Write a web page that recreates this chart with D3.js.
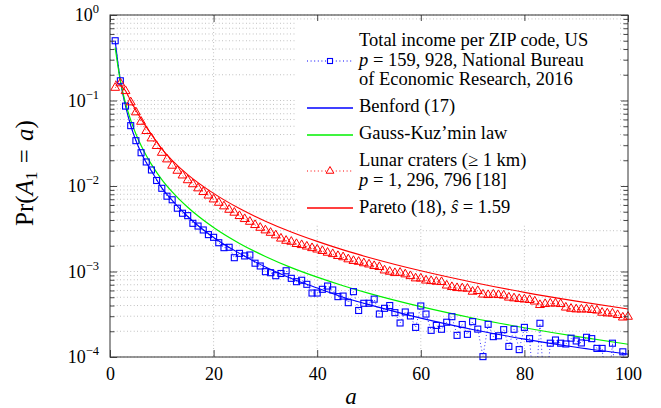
<!DOCTYPE html>
<html>
<head>
<meta charset="utf-8">
<script src="https://cdn.jsdelivr.net/npm/d3@7"></script>
<style>
    body { margin: 0; background: #fff; }
    svg text { font-family: "Liberation Serif", "Times New Roman", serif; fill: #000; }
</style>
</head>
<body>
<div id="chart"></div>
<script>
// first partial value a = 1..100
const digitValues = d3.range(1, 101);

// Total income per ZIP code, US (values below 1e-4 sit under the axis)
const incomeZip = [
    0.50, 0.170, 0.086, 0.0508, 0.0339, 0.0245, 0.0191, 0.0154, 0.0116, 0.0094,
    0.0076, 0.0069, 0.0055, 0.0048, 0.0045, 0.00366, 0.0034, 0.00306, 0.0027, 0.00251,
    0.00217, 0.00190, 0.00192, 0.00145, 0.00163, 0.00152, 0.00156, 0.00125, 0.00116, 0.000995,
    0.000968, 0.000893, 0.000948, 0.00102, 0.000832, 0.000760, 0.00079, 0.000708, 0.00056, 0.00056,
    0.000619, 0.000676, 0.000608, 0.000508, 0.000516, 0.000432, 0.000581, 0.00035, 0.000425, 0.000425,
    0.000475, 0.000318, 0.000371, 0.0004, 0.00033, 0.00025, 0.000336, 0.000302, 0.000222, 0.000395,
    0.000318, 0.000205, 0.000234, 0.000211, 0.000255, 0.000296, 0.000179, 0.00024, 0.000184, 0.000259,
    0.000212, 0.000101, 0.000241, 0.000173, 0.000177, 0.000209, 0.000133, 0.000211, 0.000122, 0.000222,
    0.000164, 0.00003, 0.000248, 0.00003, 0.000145, 0.000158, 0.000145, 0.000142, 0.000166, 0.000154,
    0.000146, 0.000170, 0.000164, 0.000126, 0.000126, 0.00003, 0.000145, 0.00003, 0.000115, 0.00003
];

// Lunar craters (>= 1 km)
const lunarCraters = [
    0.141, 0.159, 0.129, 0.0953, 0.0728, 0.0565, 0.0440, 0.0361, 0.0294, 0.0245,
    0.0205, 0.0173, 0.0151, 0.0133, 0.0117, 0.0105, 0.0094, 0.00851, 0.00774, 0.00698,
    0.00638, 0.00579, 0.00528, 0.00488, 0.00446, 0.00411, 0.00382, 0.00350, 0.00325, 0.00303,
    0.00284, 0.00265, 0.00243, 0.00229, 0.00223, 0.00210, 0.00204, 0.00196, 0.00188, 0.00181,
    0.00174, 0.00166, 0.00160, 0.00152, 0.00147, 0.00139, 0.00133, 0.00130, 0.00125, 0.00121,
    0.00116, 0.00113, 0.00103, 0.000995, 0.000960, 0.000968, 0.000927, 0.000885, 0.000832, 0.000828,
    0.000785, 0.000774, 0.000760, 0.000754, 0.000686, 0.000659, 0.000641, 0.000636, 0.000630, 0.000581,
    0.000592, 0.000538, 0.000531, 0.000538, 0.000531, 0.000524, 0.000496, 0.000486, 0.000477, 0.000471,
    0.000465, 0.000446, 0.000406, 0.000417, 0.000423, 0.000423, 0.000417, 0.000379, 0.000367, 0.000361,
    0.000360, 0.000361, 0.000355, 0.000350, 0.000330, 0.000324, 0.000323, 0.000310, 0.000290, 0.000296
];

// model curves, read at sample points
const benfordA = [1, 2, 3, 4, 5, 6, 7, 8, 10, 12, 15, 20, 25, 30, 35, 40, 45, 50, 60, 70, 80, 90, 100];
const benfordP = [0.5, 0.17, 0.086, 0.051, 0.034, 0.0245, 0.0188, 0.0150, 0.0095, 0.0068, 0.0044, 0.0025,
    0.00163, 0.00113, 0.00083, 0.00064, 0.00050, 0.00041, 0.000285, 0.000210, 0.000162, 0.000130, 0.000108];

const gaussA = [1, 2, 3, 4, 5, 6, 7, 8, 10, 12, 15, 20, 25, 30, 35, 40, 45, 50, 60, 70, 80, 90, 100];
const gaussP = [0.415, 0.170, 0.0931, 0.0589, 0.0406, 0.0297, 0.0227, 0.0179, 0.0119, 0.00854, 0.00564, 0.00327,
    0.00213, 0.00150, 0.00111, 0.000858, 0.000682, 0.000555, 0.000388, 0.000286, 0.000220, 0.000174, 0.000141];

const paretoA = [1, 2, 3, 4, 5, 6, 8, 10, 12, 15, 20, 25, 30, 35, 40, 45, 50, 60, 70, 80, 90, 100];
const paretoP = [0.17, 0.15, 0.13, 0.099, 0.077, 0.061, 0.040, 0.0272, 0.0200, 0.0136, 0.0082, 0.00545,
    0.00388, 0.0029, 0.00225, 0.00179, 0.00146, 0.00102, 0.00075, 0.00057, 0.00045, 0.000364];

const xTickValues = [0, 20, 40, 60, 80, 100];
const yMajorTicks = [1, 1e-1, 1e-2, 1e-3, 1e-4];
const yTickExponents = ["0", "\u22121", "\u22122", "\u22123", "\u22124"];

const legendLabels = [
    ["Total income per ZIP code, US", "<i>p</i> = 159, 928, National Bureau", "of Economic Research, 2016"],
    ["Benford (17)"],
    ["Gauss-Kuz\u2019min law"],
    ["Lunar craters (\u2265 1 km)", "<i>p</i> = 1, 296, 796 [18]"],
    ["Pareto (18), <i>\u015d</i> = 1.59"]
];

(function () {
    var width = 661, height = 408;
    var margin = { top: 15, right: 33, bottom: 51, left: 110 };
    var blue = "#0000ff", green = "#00f000", red = "#ff0000";
    var serif = "'Liberation Serif', 'Times New Roman', serif";

    var svg = d3.select("#chart")
        .append("svg")
        .attr("width", width)
        .attr("height", height);

    var xScale = d3.scaleLinear()
        .domain([0, 100])
        .range([margin.left, width - margin.right]);

    var yScale = d3.scaleLog()
        .domain([1e-4, 1])
        .range([height - margin.bottom, margin.top]);

    var allYTicks = yScale.ticks();
    var minorYTicks = allYTicks.filter(v => yMajorTicks.indexOf(v) < 0);

    svg.append("clipPath")
        .attr("id", "plotClip")
        .append("rect")
        .attr("x", margin.left)
        .attr("y", margin.top)
        .attr("width", width - margin.left - margin.right)
        .attr("height", height - margin.top - margin.bottom);

    // dotted grid
    var grid = svg.append("g").attr("class", "grid")
        .attr("stroke", "#a0a0a0")
        .attr("stroke-width", 0.8)
        .attr("stroke-dasharray", "0.8,2.6");

    grid.selectAll("line.h")
        .data(allYTicks)
        .enter()
        .append("line")
        .attr("class", "h")
        .attr("x1", margin.left)
        .attr("x2", width - margin.right)
        .attr("y1", d => yScale(d))
        .attr("y2", d => yScale(d));

    grid.selectAll("line.v")
        .data(xTickValues.slice(1, -1))
        .enter()
        .append("line")
        .attr("class", "v")
        .attr("x1", d => xScale(d))
        .attr("x2", d => xScale(d))
        .attr("y1", margin.top)
        .attr("y2", height - margin.bottom);

    var plot = svg.append("g").attr("clip-path", "url(#plotClip)");

    var dataLine = d3.line()
        .x((d, i) => xScale(digitValues[i]))
        .y(d => yScale(d));

    var curveLine = d3.line()
        .x(d => xScale(d[0]))
        .y(d => yScale(d[1]))
        .curve(d3.curveMonotoneX);

    var inRange = d => d >= 1e-4;

    // income per ZIP code
    plot.append("path")
        .datum(incomeZip)
        .attr("d", dataLine)
        .attr("fill", "none")
        .attr("stroke", blue)
        .attr("stroke-width", 0.9)
        .attr("stroke-dasharray", "0.9,2.6");

    svg.append("g")
        .selectAll("rect")
        .data(digitValues.filter((a, i) => inRange(incomeZip[i])))
        .enter()
        .append("rect")
        .attr("x", a => xScale(a) - 3)
        .attr("y", a => yScale(incomeZip[a - 1]) - 3)
        .attr("width", 6)
        .attr("height", 6)
        .attr("fill", "none")
        .attr("stroke", blue)
        .attr("stroke-width", 1.1);

    // Benford
    plot.append("path")
        .datum(d3.zip(benfordA, benfordP))
        .attr("d", curveLine)
        .attr("fill", "none")
        .attr("stroke", blue)
        .attr("stroke-width", 1.1);

    // Gauss-Kuz'min
    plot.append("path")
        .datum(d3.zip(gaussA, gaussP))
        .attr("d", curveLine)
        .attr("fill", "none")
        .attr("stroke", green)
        .attr("stroke-width", 1.2);

    // lunar craters
    plot.append("path")
        .datum(lunarCraters)
        .attr("d", dataLine)
        .attr("fill", "none")
        .attr("stroke", red)
        .attr("stroke-width", 0.9)
        .attr("stroke-dasharray", "0.9,2.6");

    var triangle = d3.symbol().type(d3.symbolTriangle).size(34);

    svg.append("g")
        .selectAll("path")
        .data(digitValues)
        .enter()
        .append("path")
        .attr("d", triangle)
        .attr("transform", a => `translate(${xScale(a)},${yScale(lunarCraters[a - 1])})`)
        .attr("fill", "none")
        .attr("stroke", red)
        .attr("stroke-width", 1);

    // Pareto
    plot.append("path")
        .datum(d3.zip(paretoA, paretoP))
        .attr("d", curveLine)
        .attr("fill", "none")
        .attr("stroke", red)
        .attr("stroke-width", 1.1);

    // axes: inward ticks on all four sides
    var axisColor = "#333";
    function styleAxis(g) {
        g.select(".domain").remove();
        g.selectAll(".tick line").attr("stroke", axisColor).attr("stroke-width", 0.9);
    }

    svg.append("g")
        .attr("transform", `translate(${margin.left},0)`)
        .call(d3.axisLeft(yScale).tickValues(minorYTicks).tickSize(-4.5).tickFormat(""))
        .call(styleAxis);
    svg.append("g")
        .attr("transform", `translate(${margin.left},0)`)
        .call(d3.axisLeft(yScale).tickValues(yMajorTicks).tickSize(-7).tickFormat(""))
        .call(styleAxis);
    svg.append("g")
        .attr("transform", `translate(${width - margin.right},0)`)
        .call(d3.axisRight(yScale).tickValues(minorYTicks).tickSize(-4.5).tickFormat(""))
        .call(styleAxis);
    svg.append("g")
        .attr("transform", `translate(${width - margin.right},0)`)
        .call(d3.axisRight(yScale).tickValues(yMajorTicks).tickSize(-7).tickFormat(""))
        .call(styleAxis);

    var xAxisEl = svg.append("g")
        .attr("transform", `translate(0,${height - margin.bottom})`)
        .call(d3.axisBottom(xScale).tickValues(xTickValues).tickSize(-7).tickPadding(10))
        .call(styleAxis);
    xAxisEl.attr("font-family", serif);
    xAxisEl.selectAll("text")
        .style("font-family", serif)
        .attr("font-size", 18)
        .attr("fill", "#000");

    svg.append("g")
        .attr("transform", `translate(0,${margin.top})`)
        .call(d3.axisTop(xScale).tickValues(xTickValues).tickSize(-7).tickFormat(""))
        .call(styleAxis);

    svg.append("rect")
        .attr("x", margin.left)
        .attr("y", margin.top)
        .attr("width", width - margin.left - margin.right)
        .attr("height", height - margin.top - margin.bottom)
        .attr("fill", "none")
        .attr("stroke", axisColor)
        .attr("stroke-width", 1);

    // y tick labels 10^k
    var yLabel = svg.append("g")
        .selectAll("text")
        .data(yMajorTicks)
        .enter()
        .append("text")
        .attr("x", margin.left - 11)
        .attr("y", d => yScale(d) + 6)
        .attr("text-anchor", "end")
        .style("font-family", serif)
        .attr("font-size", 18);
    yLabel.append("tspan").text("10");
    yLabel.append("tspan")
        .attr("dy", -8)
        .attr("font-size", 12.5)
        .text((d, i) => yTickExponents[i]);

    // axis titles
    svg.append("text")
        .attr("x", 351)
        .attr("y", 404)
        .attr("text-anchor", "middle")
        .style("font-family", serif)
        .attr("font-size", 23)
        .attr("font-style", "italic")
        .text("a");

    var yTitle = svg.append("text")
        .attr("transform", "translate(33,173) rotate(-90)")
        .attr("text-anchor", "middle")
        .style("font-family", serif)
        .attr("font-size", 25);
    yTitle.append("tspan").text("Pr(");
    yTitle.append("tspan").attr("font-style", "italic").text("A");
    yTitle.append("tspan").attr("font-size", 17).attr("dy", 4).text("1");
    yTitle.append("tspan").attr("dy", -4).attr("dx", 2).text(" = ");
    yTitle.append("tspan").attr("dx", 2).attr("font-style", "italic").text("a");
    yTitle.append("tspan").text(")");

    // legend, on a white box without border
    var legendStyles = [
        { color: blue, dotted: true, mark: "square" },
        { color: blue, dotted: false },
        { color: green, dotted: false },
        { color: red, dotted: true, mark: "triangle" },
        { color: red, dotted: false }
    ];
    var lineHeight = 19.5, entryGap = 7.5;
    var sampleX = 307, sampleLen = 46, textX = 359;
    var baseline = 46;
    var legend = svg.append("g").attr("class", "legend");

    legend.append("rect")
        .attr("x", 297)
        .attr("y", 21)
        .attr("width", 323)
        .attr("height", 203)
        .attr("fill", "#fff");

    legendLabels.forEach((lines, i) => {
        var style = legendStyles[i];
        var first = baseline;
        lines.forEach((line, j) => {
            var t = legend.append("text")
                .attr("x", textX)
                .attr("y", baseline)
                .style("font-family", serif)
                .attr("font-size", 18.5);
            line.split(/(<i>.*?<\/i>)/).filter(s => s.length).forEach(part => {
                var italic = part.startsWith("<i>");
                t.append("tspan")
                    .attr("font-style", italic ? "italic" : null)
                    .text(italic ? part.slice(3, -4) : part);
            });
            if (j < lines.length - 1) baseline += lineHeight;
        });
        var cy = Math.round((first + baseline) / 2 - 4.5);
        legend.append("line")
            .attr("x1", sampleX)
            .attr("x2", sampleX + sampleLen)
            .attr("y1", cy)
            .attr("y2", cy)
            .attr("stroke", style.color)
            .attr("stroke-width", style.dotted ? 1 : 1.6)
            .attr("stroke-dasharray", style.dotted ? "1,2.6" : null);
        if (style.mark == "square") {
            legend.append("rect")
                .attr("x", sampleX + sampleLen / 2 - 2.5)
                .attr("y", cy - 2.5)
                .attr("width", 5)
                .attr("height", 5)
                .attr("fill", "#fff")
                .attr("stroke", style.color)
                .attr("stroke-width", 1.1);
        } else if (style.mark == "triangle") {
            legend.append("path")
                .attr("d", d3.symbol().type(d3.symbolTriangle).size(26))
                .attr("transform", `translate(${sampleX + sampleLen / 2},${cy})`)
                .attr("fill", "#fff")
                .attr("stroke", style.color)
                .attr("stroke-width", 1);
        }
        baseline += lineHeight + entryGap;
    });
})();
</script>
</body>
</html>
